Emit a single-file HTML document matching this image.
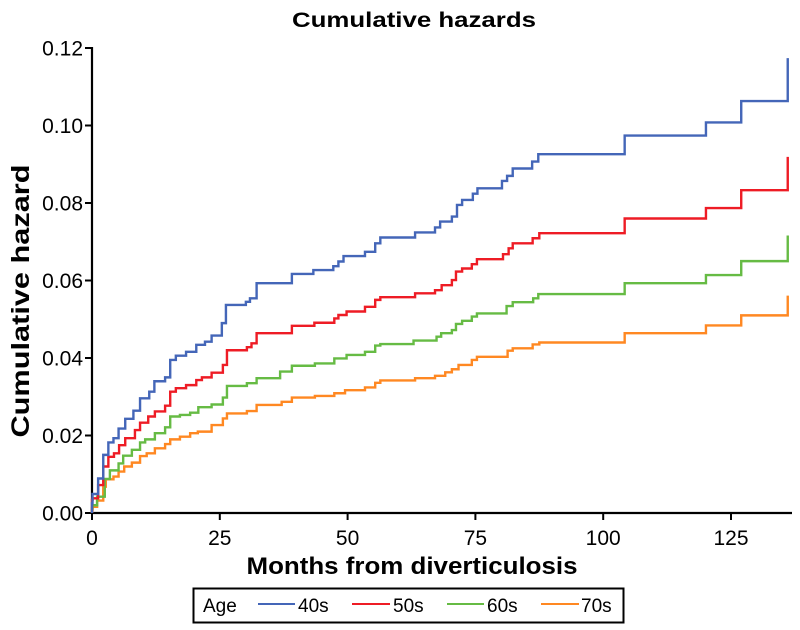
<!DOCTYPE html>
<html><head><meta charset="utf-8"><style>
html,body{margin:0;padding:0;background:#fff;}
svg{display:block;font-family:"Liberation Sans",Arial,sans-serif;}
</style></head><body>
<svg id="chart" width="800" height="630" viewBox="0 0 800 630" xmlns="http://www.w3.org/2000/svg">
<rect width="800" height="630" fill="#fff"/>
<text x="414" y="27" text-anchor="middle" font-size="21" font-weight="bold" textLength="244" lengthAdjust="spacingAndGlyphs">Cumulative hazards</text>
<text transform="translate(29,301) rotate(-90)" text-anchor="middle" font-size="25" font-weight="bold" textLength="273" lengthAdjust="spacingAndGlyphs">Cumulative hazard</text>
<text x="412" y="574" text-anchor="middle" font-size="24" font-weight="bold" textLength="331" lengthAdjust="spacingAndGlyphs">Months from diverticulosis</text>
<g id="axes"></g>
<g id="series"></g>
<g>
<rect x="193.5" y="588.5" width="430" height="34" fill="#fff" stroke="#000" stroke-width="2"/>
<text x="203" y="612" font-size="19">Age</text>
<g><line x1="258" y1="604" x2="295" y2="604" stroke="#4466b8" stroke-width="2"/><text x="298" y="612" font-size="19">40s</text></g>
<g><line x1="352" y1="604" x2="390" y2="604" stroke="#ee1c25" stroke-width="2"/><text x="393" y="612" font-size="19">50s</text></g>
<g><line x1="447" y1="604" x2="484" y2="604" stroke="#66bb44" stroke-width="2"/><text x="487" y="612" font-size="19">60s</text></g>
<g><line x1="541" y1="604" x2="579" y2="604" stroke="#ff8822" stroke-width="2"/><text x="581" y="612" font-size="19">70s</text></g>
</g>
</svg>
<script>
const xTicks = [0, 25, 50, 75, 100, 125];
const yTicks = [0, 0.02, 0.04, 0.06, 0.08, 0.10, 0.12];
const yTickLabels = ["0.00", "0.02", "0.04", "0.06", "0.08", "0.10", "0.12"];
const seriesNames = ["40s", "50s", "60s", "70s"];
const t40 = [0,0.1,1.2,2.2,3.2,4.2,5.2,6.5,8.1,9.4,11.2,12.2,14.3,15.3,16.4,18.4,20.4,22.1,23.4,25.4,26.2,30.1,30.9,32.2,39.1,43.3,47.2,48.2,49.2,53.4,55.4,56.4,63.2,67.1,68.1,70.4,71.4,72.4,74.5,75.4,80.2,81.2,82.3,86.1,87.3,104.2,120.1,127.0,136.1];
const v40 = [0.0025,0.0049,0.0089,0.015,0.0182,0.0193,0.0218,0.0243,0.0264,0.0296,0.0313,0.034,0.035,0.0395,0.0406,0.0416,0.0434,0.0442,0.0458,0.049,0.0537,0.0545,0.0554,0.0593,0.0617,0.0627,0.0637,0.0649,0.0663,0.0674,0.0696,0.0711,0.0724,0.0737,0.0752,0.0765,0.0795,0.0808,0.0824,0.0838,0.0857,0.087,0.0889,0.0907,0.0926,0.0974,0.1008,0.1063,0.1174];
const t50 = [0,0.1,1.2,2.2,3.2,4.3,5.3,6.5,8.4,9.4,11.0,12.3,14.3,15.3,16.4,18.4,20.4,21.5,23.4,25.6,26.4,30.3,31.2,32.2,39.1,43.5,47.4,48.2,49.8,53.4,55.4,56.4,63.2,67.1,68.4,70.4,71.2,72.4,74.3,75.3,80.4,81.5,82.3,86.2,87.5,104.2,120.1,127.0,136.1];
const v50 = [0.0034,0.0038,0.0072,0.012,0.0145,0.0154,0.0175,0.0193,0.0214,0.0233,0.0249,0.0262,0.0277,0.0313,0.0322,0.033,0.0343,0.035,0.0362,0.0382,0.042,0.0428,0.0438,0.0464,0.0483,0.0491,0.0502,0.0511,0.052,0.0532,0.055,0.0557,0.0567,0.0575,0.0588,0.0601,0.0623,0.0631,0.0642,0.0655,0.0668,0.0683,0.0696,0.0709,0.0722,0.076,0.0787,0.0833,0.0919];
const t60 = [0,0.1,1.0,2.5,3.5,5.2,6.1,7.8,9.4,10.4,12.3,14.3,15.3,17.2,19.2,20.8,23.4,25.6,26.4,30.3,32.2,36.8,39.1,43.6,47.4,49.8,53.4,55.4,56.4,62.9,67.4,68.3,70.4,71.2,72.4,74.3,75.3,81.1,82.3,86.3,87.3,104.2,120.1,127.0,136.1];
const v60 = [0.0012,0.002,0.0042,0.0088,0.011,0.0128,0.0148,0.0163,0.0182,0.019,0.0206,0.0221,0.0249,0.0253,0.0259,0.0273,0.028,0.0298,0.0328,0.0335,0.0348,0.0365,0.038,0.0386,0.0399,0.0408,0.0416,0.0432,0.0436,0.0445,0.0455,0.0464,0.0472,0.0488,0.0496,0.0507,0.0515,0.0534,0.0544,0.0554,0.0565,0.0593,0.0614,0.065,0.0716];
const t70 = [0,0.1,1.0,2.2,2.7,4.2,5.2,6.3,7.8,9.4,10.7,12.3,14.3,15.3,17.2,19.2,20.7,23.4,25.6,26.4,30.3,32.2,37.1,39.1,43.6,47.4,49.5,53.4,55.4,56.4,63.2,67.1,69.1,70.4,71.7,74.3,75.3,81.3,82.3,86.2,87.5,104.2,120.1,127.0,136.1];
const v70 = [0.0008,0.0016,0.0032,0.0068,0.0087,0.0094,0.0107,0.012,0.013,0.0147,0.0154,0.0167,0.0178,0.019,0.0197,0.0206,0.021,0.0227,0.0244,0.0257,0.0263,0.0279,0.0287,0.0298,0.0302,0.0309,0.0317,0.0324,0.0336,0.0342,0.0348,0.0354,0.0363,0.0371,0.0382,0.0395,0.0403,0.0419,0.0425,0.0435,0.044,0.0464,0.0484,0.051,0.0561];

const NS = "http://www.w3.org/2000/svg";
const X0 = 92, XPER = 5.112, Y0 = 513, YPER = 3875;
function xs(m){ return X0 + m * XPER; }
function ys(v){ return Y0 - v * YPER; }
function mk(tag, attrs){ const e = document.createElementNS(NS, tag); for (const k in attrs) e.setAttribute(k, attrs[k]); return e; }

const axes = document.getElementById('axes');
const xAxis = mk('line', {x1: 91, y1: Y0, x2: 792, y2: Y0, stroke: '#000', 'stroke-width': 2.2});


axes.appendChild(xAxis);
const yAxis = mk('line', {x1: X0, y1: ys(0.12) - 1, x2: X0, y2: Y0 + 1, stroke: '#000', 'stroke-width': 2.2});


axes.appendChild(yAxis);
xTicks.forEach(function(t){
  const tk = mk('line', {x1: xs(t), y1: Y0, x2: xs(t), y2: Y0 + 7, stroke: '#000', 'stroke-width': 2});
  
  
  axes.appendChild(tk);
  const lb = mk('text', {x: xs(t), y: 545, 'text-anchor': 'middle', 'font-size': 21});
  lb.textContent = String(t);
  
  
  axes.appendChild(lb);
});
yTicks.forEach(function(v, i){
  const tk = mk('line', {x1: X0 - 7, y1: ys(v), x2: X0, y2: ys(v), stroke: '#000', 'stroke-width': 2});
  
  
  axes.appendChild(tk);
  const lb = mk('text', {x: 83, y: ys(v) + 7.5, 'text-anchor': 'end', 'font-size': 21});
  lb.textContent = yTickLabels[i];
  
  
  axes.appendChild(lb);
});

const colors = ["#4466b8", "#ee1c25", "#66bb44", "#ff8822"];
const allT = [t40, t50, t60, t70];
const allV = [v40, v50, v60, v70];
const sg = document.getElementById('series');
for (let s = 3; s >= 0; s--) {
  const T = allT[s], V = allV[s];
  let d = 'M' + xs(0) + ' ' + ys(0);
  for (let i = 0; i < T.length; i++) {
    d += ' H' + xs(T[i]).toFixed(2) + ' V' + ys(V[i]).toFixed(2);
  }
  const p = mk('path', {d: d, fill: 'none', stroke: colors[s], 'stroke-width': 2.4, 'stroke-linejoin': 'miter'});
  
  
  sg.appendChild(p);
}
</script>
</body></html>
